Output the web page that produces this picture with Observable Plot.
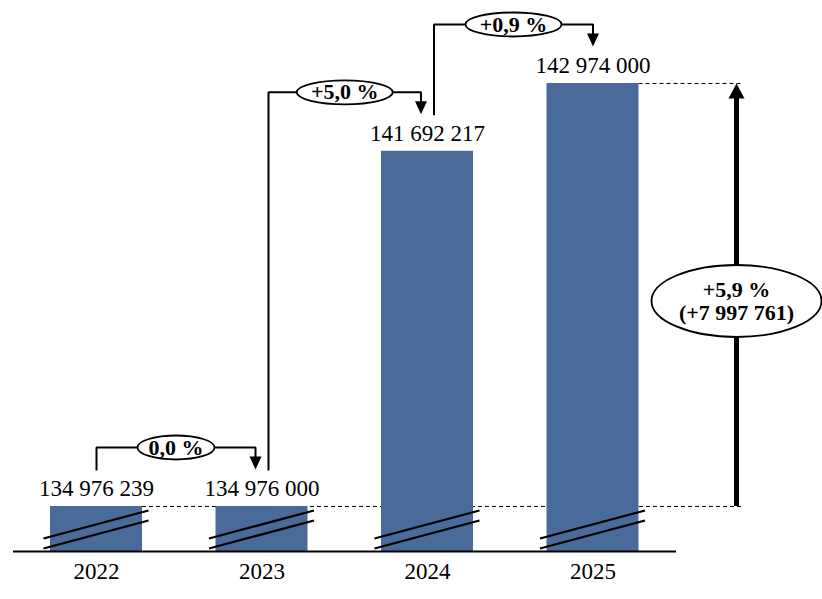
<!DOCTYPE html>
<html><head><meta charset="utf-8">
<script src="https://cdn.jsdelivr.net/npm/d3@7"></script>
<script src="https://cdn.jsdelivr.net/npm/@observablehq/plot@0.6"></script>
<style>body{margin:0;background:#fff}</style>
</head><body><div id="chart"></div>
<script>
// ---- data ----
const years = ["2022", "2023", "2024", "2025"];
const values = [134976239, 134976000, 141692217, 142974000];
const changes = ["0,0 %", "+5,0 %", "+0,9 %"];
const totalChange = ["+5,9 %", "(+7 997 761)"];

// ---- layout helpers ----
const FONT = "'Liberation Serif', 'Times New Roman', serif";
const W = 822, H = 599;
const yMin = 134125000, yMax = 144543000;
const mTop = 0, mBottom = 48;
const u = (yMax - yMin) / (H - mTop - mBottom); // value units per pixel
const step = 165.5;                               // px per category
const hw = 46 / step;                             // bar half width
const data = years.map((year, i) => ({i, year, value: values[i]}));
const fmt = v => d3.format(",")(v).replace(/,/g, " ");
const n = data.length;

function ellipse(rx, ry) {
  const k = 0.5523;
  return {draw(c) {
    c.moveTo(rx, 0);
    c.bezierCurveTo(rx, ry * k, rx * k, ry, 0, ry);
    c.bezierCurveTo(-rx * k, ry, -rx, ry * k, -rx, 0);
    c.bezierCurveTo(-rx, -ry * k, -rx * k, -ry, 0, -ry);
    c.bezierCurveTo(rx * k, -ry, rx, -ry * k, rx, 0);
    c.closePath();
  }};
}
function triDown(w, h) { return {draw(c) { c.moveTo(0, 0); c.lineTo(-w / 2, -h); c.lineTo(w / 2, -h); c.closePath(); }}; }
function triUp(w, h) { return {draw(c) { c.moveTo(0, 0); c.lineTo(-w / 2, h); c.lineTo(w / 2, h); c.closePath(); }}; }

// connectors between consecutive bars
const off = 6.5 / step;
const conns = changes.map((label, k) => {
  const a = data[k], b = data[k + 1];
  const xs = k + (k > 0 ? off : 0);
  const xe = k + 1 - (k + 1 < n - 1 ? off : 0);
  const yS = a.value + 36 * u;
  const yT = b.value + 37 * u;
  const yH = Math.max(a.value, b.value) + 59 * u;
  return {k, label, xs, xe, yS, yT, yH, xm: (xs + xe) / 2};
});
const connPts = conns.flatMap(c => [
  {k: c.k, x: c.xs, y: c.yS}, {k: c.k, x: c.xs, y: c.yH},
  {k: c.k, x: c.xe, y: c.yH}, {k: c.k, x: c.xe, y: c.yT + 8 * u}
]);

const xEnd = (742 - 96) / step;
const xBig = (736 - 96) / step;
const yBigMid = (values[0] + values[3]) / 2 - 6 * u;

const marks = [
  // dashed reference lines
  Plot.ruleY([values[0]], {x1: hw, x2: xEnd, stroke: "black", strokeWidth: 1, strokeDasharray: "4,3"}),
  Plot.ruleY([values[3]], {x1: 3 + hw, x2: xEnd, stroke: "black", strokeWidth: 1, strokeDasharray: "4,3"}),
  // bars
  Plot.rectY(data, {x1: d => d.i - hw, x2: d => d.i + hw, y1: yMin, y2: "value", fill: "#4a6a9a"}),
  // axis break marks
  Plot.link(data, {x1: d => d.i - hw - 7 / step, x2: d => d.i + hw + 6 / step, y1: yMin + 13 * u, y2: yMin + 41 * u, stroke: "black", strokeWidth: 2.2}),
  Plot.link(data, {x1: d => d.i - hw - 7 / step, x2: d => d.i + hw + 6 / step, y1: yMin + 3 * u, y2: yMin + 31 * u, stroke: "black", strokeWidth: 2.2}),
  // baseline
  Plot.ruleY([yMin], {stroke: "black", strokeWidth: 2}),
  // value labels
  Plot.text(data, {x: "i", y: "value", text: d => fmt(d.value), dy: -10, lineAnchor: "bottom", fontSize: 23, fontFamily: FONT, fill: "black"}),
  // year labels
  Plot.text(data, {x: "i", y: yMin, text: "year", dy: 27, lineAnchor: "bottom", fontSize: 23, fontFamily: FONT, fill: "black"}),
  // connectors
  Plot.line(connPts, {x: "x", y: "y", z: "k", stroke: "black", strokeWidth: 2, strokeLinejoin: "miter", strokeLinecap: "butt", curve: "linear"}),
  Plot.dot(conns, {x: "xe", y: "yT", symbol: triDown(12, 13), fill: "black", stroke: "none"}),
  ...conns.map(c => Plot.dot([c], {x: "xm", y: "yH", symbol: ellipse(9.5 * c.label.length - 9, 12), fill: "white", stroke: "black", strokeWidth: 1.8})),
  Plot.text(conns, {x: "xm", y: "yH", text: "label", fontSize: 22, fontWeight: "bold", fontFamily: FONT, fill: "black"}),
  // total change arrow
  Plot.ruleX([xBig], {y1: values[0], y2: values[3] - 12 * u, stroke: "black", strokeWidth: 5}),
  Plot.dot([{x: xBig, y: values[3]}], {x: "x", y: "y", symbol: triUp(16, 15), fill: "black", stroke: "none"}),
  Plot.dot([{x: xBig, y: yBigMid}], {x: "x", y: "y", symbol: ellipse(85, 36), fill: "white", stroke: "black", strokeWidth: 1.8}),
  Plot.text([{x: xBig, y: yBigMid, t: totalChange.join("\n")}], {x: "x", y: "y", text: "t", fontSize: 22, fontWeight: "bold", fontFamily: FONT, lineHeight: 1.05, fill: "black"})
];

const chart = Plot.plot({
  width: W, height: H,
  marginLeft: 13, marginRight: 146, marginTop: mTop, marginBottom: mBottom,
  x: {type: "linear", domain: [-83 / step, (663 - 83) / step], axis: null},
  y: {domain: [yMin, yMax], axis: null},
  style: {fontFamily: FONT, background: "white", overflow: "visible"},
  marks
});
document.getElementById("chart").appendChild(chart);
</script>
</body></html>
